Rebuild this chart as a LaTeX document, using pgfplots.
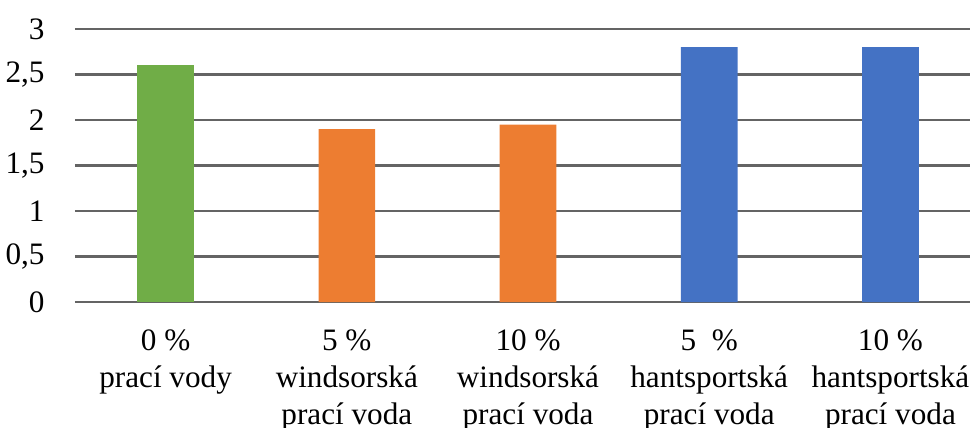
\documentclass[border=0pt]{standalone}
\usepackage{pgfplots}
\pgfplotsset{compat=1.18}
\usepackage{fontspec}
\setmainfont{Liberation Serif}
\definecolor{xgreen}{HTML}{70AD47}
\definecolor{xorange}{HTML}{ED7D31}
\definecolor{xblue}{HTML}{4472C4}
\definecolor{gridc}{RGB}{100,100,100}
\begin{document}
\begin{tikzpicture}
\begin{axis}[
  name=ax,
  scale only axis,
  width=447.5pt, height=136.5pt,
  xmin=-0.5, xmax=4.439,
  ymin=0, ymax=3,
  ytick={0,0.5,...,3},
  xtick={0,1,2,3,4},
  xticklabels={{0 \%\\prací vody},{5 \%\\windsorská\\prací voda},{10 \%\\windsorská\\prací voda},{5~~\%\\hantsportská\\prací voda},{10 \%\\hantsportská\\prací voda}},
  axis lines*=left,
  axis line style={draw=none},
  major tick length=0pt,
  ymajorgrids,
  grid style={draw=gridc, line width=1.05pt},
  /pgf/number format/.cd, use comma, 1000 sep={}, assume math mode=true,
  /pgfplots/.cd,
  tick label style={font=\fontsize{15.6}{18.5}\selectfont},
  yticklabel style={anchor=east, inner sep=0pt, xshift=-15pt},
  xticklabel style={anchor=north, inner sep=0pt, yshift=-13.5pt, align=center},
  ybar, bar width=28.3pt,
  every axis plot/.append style={bar shift=0pt, draw=none},
  clip=false,
]
\addplot[fill=xgreen, draw=none] coordinates {(0,2.6)};
\addplot[fill=xorange, draw=none] coordinates {(1,1.9) (2,1.95)};
\addplot[fill=xblue, draw=none] coordinates {(3,2.8) (4,2.8)};
\end{axis}
\pgfresetboundingbox
\path ([shift={(-37.5pt,-63pt)}]ax.south west) rectangle ([shift={(0pt,14.5pt)}]ax.north east);
\end{tikzpicture}
\end{document}
